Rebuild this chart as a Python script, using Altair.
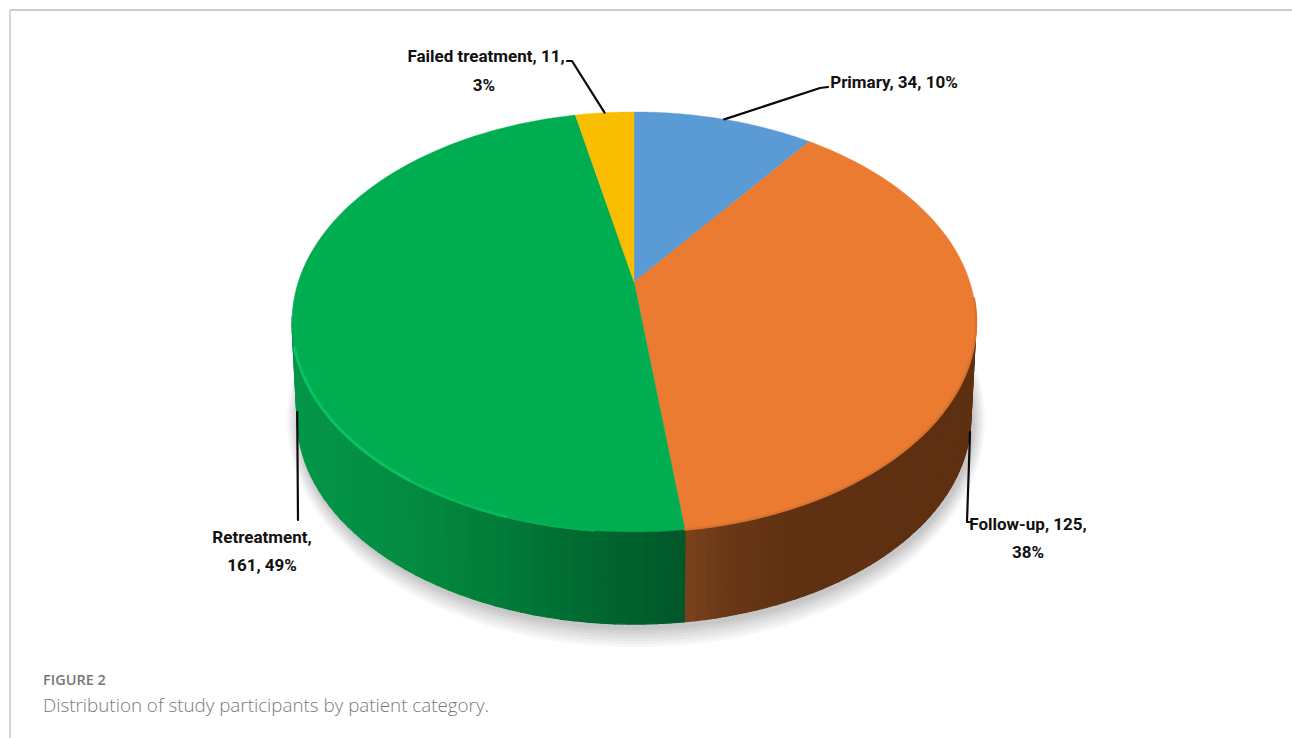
import math
import altair as alt

# Patient categories, clockwise from twelve o'clock
categories = ["Primary", "Follow-up", "Retreatment", "Failed treatment"]
counts = [34, 125, 161, 11]
percent_labels = ["10%", "38%", "49%", "3%"]
top_colors = ["#5B9BD5", "#EB7B30", "#00AD50", "#F9BE00"]

# Side wall shading: (pixel x, colour) stops per slice that shows a wall
wall_stops = {
    "Follow-up": [(683, "#7B431D"), (725, "#6A3817"), (790, "#5F3112"), (975, "#5E3012")],
    "Retreatment": [(291, "#04964A"), (400, "#038C42"), (500, "#027C39"),
                    (570, "#016C32"), (640, "#015F2C"), (683, "#00562A")],
}

# Perspective model of the disc
CX, CY = 634.0, 282.0
A, B, K = 335.8, 202.4, 0.19
DEPTH, SHRINK = 96.0, 0.985
WALL_TOP = 322.0
total = sum(counts)

starts, acc = [], 0
for c in counts:
    starts.append(acc / total)
    acc += c
ends = [s + c / total for s, c in zip(starts, counts)]


def rim(f):
    t = 2 * math.pi * f
    u, v = math.sin(t), math.cos(t)
    d = 1 + K * v
    return [CX + A * u / d, CY - B * v / d]


def lower(p):
    return [CX + (p[0] - CX) * SHRINK, CY + (p[1] - CY) * SHRINK + DEPTH]


def feature(kind, coords, **props):
    return {"type": "Feature", "properties": props,
            "geometry": {"type": kind, "coordinates": coords}}


def mix(stops, x):
    if x <= stops[0][0]:
        return stops[0][1]
    for (x0, c0), (x1, c1) in zip(stops, stops[1:]):
        if x <= x1:
            w = (x - x0) / (x1 - x0)
            ch = [round(int(c0[i:i + 2], 16) * (1 - w) + int(c1[i:i + 2], 16) * w) for i in (1, 3, 5)]
            return "#%02X%02X%02X" % tuple(ch)
    return stops[-1][1]


def frange(a, b, n):
    return [a + (b - a) * i / n for i in range(n + 1)]


# Soft ground shadow: stacked translucent outlines of the lower rim
shadow = []
for grow in (20, 17, 14, 11, 8, 6, 4, 2):
    pts = []
    for f in frange(0, 1, 120):
        p = lower(rim(f))
        pts.append([CX + 2 + (p[0] - CX) * (1 + 0.6 * grow / 340), 418 + 3 + (p[1] - 418) * (1 + grow / 205)])
    shadow.append(feature("Polygon", [pts]))

# Side wall strips, each with its own shade; strips above the widest point stay hidden
walls = []
for name, s, e in zip(categories, starts, ends):
    if name not in wall_stops:
        continue
    fs = frange(s, e, 90)
    for a, b in zip(fs, fs[1:]):
        p, q = rim(a), rim(b)
        if q[1] < WALL_TOP and p[1] < WALL_TOP:
            continue
        col = mix(wall_stops[name], (p[0] + q[0]) / 2)
        walls.append(feature("Polygon", [[p, q, lower(q), lower(p), p]], fill=col))

# Top face slices
slices = []
for name, s, e, col in zip(categories, starts, ends, top_colors):
    pts = [[CX, CY]] + [rim(f) for f in frange(s, e, 90)] + [[CX, CY]]
    slices.append(feature("Polygon", [pts], fill=col, name=name))

# Bevel along the near edge of the top face
g_s = starts[2]
bevel = [
    feature("LineString", [rim(f) for f in frange(g_s + 0.035, g_s + 0.075, 10)], stroke="#03B154", width=2.5),
    feature("LineString", [rim(f) for f in frange(g_s + 0.07, g_s + 0.12, 14)], stroke="#07BA5B", width=2.8),
    feature("LineString", [rim(f) for f in frange(g_s + 0.115, g_s + 0.22, 30)], stroke="#0BC162", width=3.0),
    feature("LineString", [rim(f) for f in frange(starts[1] + 0.16, ends[1], 60)], stroke="#D9742E", width=2.4),
]

# Leader lines start at each slice's midpoint on the rim or the wall
mid = [(s + e) / 2 for s, e in zip(starts, ends)]
leaders = [
    feature("LineString", [rim(mid[0]), [820, 88], [828, 87]]),
    feature("LineString", [lower(rim(mid[1])), [967, 522], [970, 522]]),
    feature("LineString", [lower(rim(mid[2])), [298, 520]]),
    feature("LineString", [rim(mid[3]), [572, 61], [567, 61]]),
]

# Callout text, one row per drawn line
callouts = [
    {"text": f"{categories[0]}, {counts[0]}, {percent_labels[0]}", "px": 894, "py": 83},
    {"text": f"{categories[1]}, {counts[1]},", "px": 1028, "py": 525},
    {"text": percent_labels[1], "px": 1028, "py": 553},
    {"text": f"{categories[2]},", "px": 262, "py": 538},
    {"text": f"{counts[2]}, {percent_labels[2]}", "px": 262, "py": 566},
    {"text": f"{categories[3]}, {counts[3]},", "px": 486, "py": 57},
    {"text": percent_labels[3], "px": 484, "py": 86},
]
caption_head = [{"text": "FIGURE 2", "px": 43, "py": 681}]
caption_body = [{"text": "Distribution of study participants by patient category.", "px": 43, "py": 706}]

px = alt.X("px:Q", scale=None)
py = alt.Y("py:Q", scale=None)
fill_field = alt.Fill("properties.fill:N", scale=None)
stroke_field = alt.Stroke("properties.fill:N", scale=None)

layers = [
    alt.Chart(alt.Data(values=shadow)).mark_geoshape(fill="#6E6E6E", fillOpacity=0.055, strokeWidth=0),
    alt.Chart(alt.Data(values=walls)).mark_geoshape(strokeWidth=1.2).encode(fill=fill_field, stroke=stroke_field),
    alt.Chart(alt.Data(values=slices)).mark_geoshape(strokeWidth=0.4).encode(fill=fill_field, stroke=stroke_field),
    alt.Chart(alt.Data(values=bevel)).mark_geoshape(filled=False, strokeCap="round").encode(
        stroke=alt.Stroke("properties.stroke:N", scale=None),
        strokeWidth=alt.StrokeWidth("properties.width:Q", scale=None),
    ),
    alt.Chart(alt.Data(values=leaders)).mark_geoshape(filled=False, stroke="#0A0A0A", strokeWidth=2.2,
                                                      strokeCap="round", strokeJoin="round"),
    alt.Chart(alt.Data(values=callouts)).mark_text(
        font="Roboto", fontSize=17, fontWeight="bold", color="#111111",
        align="center", baseline="middle").encode(x=px, y=py, text="text:N"),
    alt.Chart(alt.Data(values=caption_head)).mark_text(
        font="Open Sans", fontSize=14.5, fontWeight=600, color="#777777",
        align="left", baseline="middle").encode(x=px, y=py, text="text:N"),
    alt.Chart(alt.Data(values=caption_body)).mark_text(
        font="Open Sans", fontSize=18.8, fontWeight=300, color="#7A7A7A",
        align="left", baseline="middle").encode(x=px, y=py, text="text:N"),
    # Panel frame: top and left hairlines
    alt.Chart(alt.Data(values=[{"a": 0}])).mark_rule(color="#BBBBBB", strokeWidth=1.5).encode(
        x=alt.value(10), x2=alt.value(1292), y=alt.value(10)),
    alt.Chart(alt.Data(values=[{"a": 0}])).mark_rule(color="#C8C8C8", strokeWidth=1.5).encode(
        x=alt.value(10), y=alt.value(10), y2=alt.value(738)),
]

chart = (
    alt.layer(*layers)
    .project(type="identity", scale=1, translate=[0, 0])
    .properties(width=1292, height=738, padding=0, autosize=alt.AutoSizeParams(type="none"), background="white")
    .configure_view(stroke=None)
)

chart.save("out.html", embed_options={"renderer": "svg", "actions": False})
